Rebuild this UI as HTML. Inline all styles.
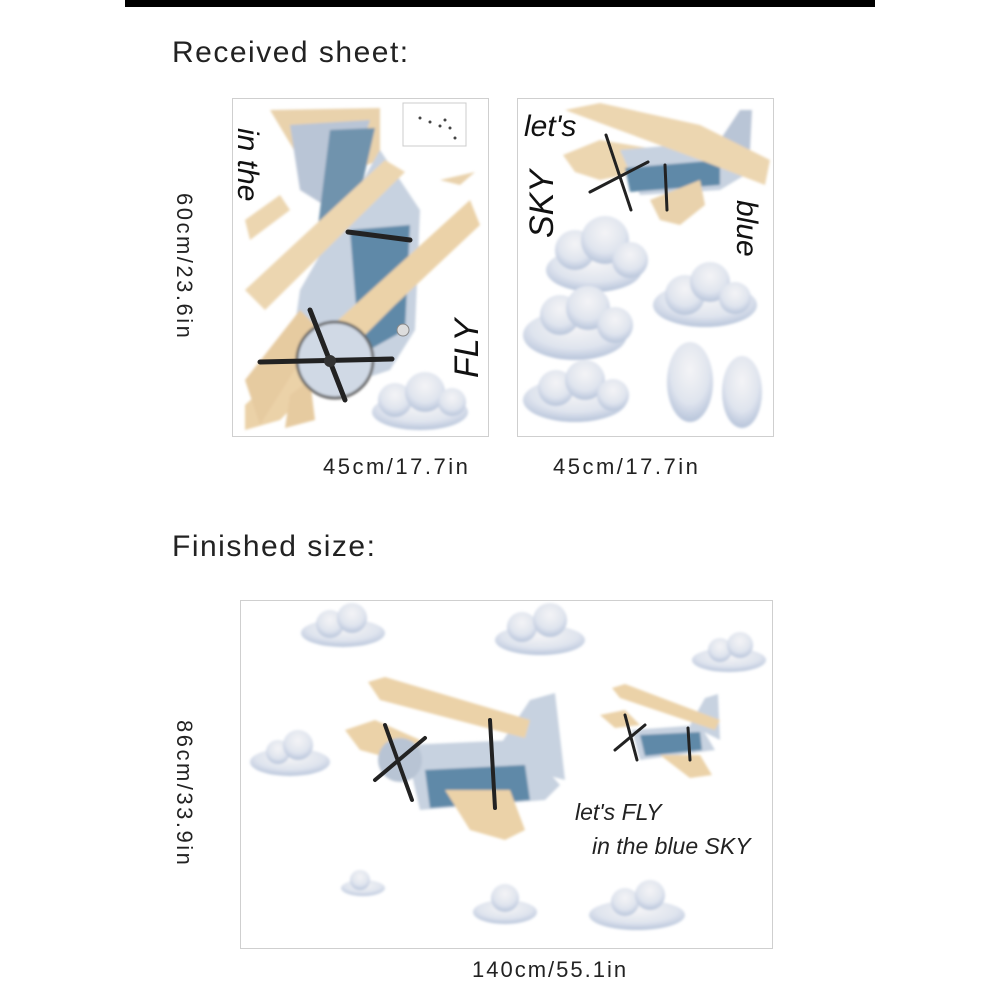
<!DOCTYPE html>
<html><head><meta charset="utf-8"><style>
html,body{margin:0;padding:0;background:#fff;}
body{width:1000px;height:1000px;position:relative;overflow:hidden;font-family:"Liberation Sans",sans-serif;}
.t{position:absolute;color:#222;white-space:nowrap;}
</style></head><body>
<svg width="1000" height="1000" style="position:absolute;left:0;top:0">
<defs>
<filter id="b" x="-20%" y="-20%" width="140%" height="140%"><feGaussianBlur stdDeviation="1.2"/></filter>
<radialGradient id="cg" cx="50%" cy="35%" r="70%"><stop offset="0" stop-color="#f4f4f6"/><stop offset="0.6" stop-color="#dfe4ee"/><stop offset="1" stop-color="#aebdd6"/></radialGradient>
</defs>
<rect x="125" y="0" width="750" height="7" fill="#000"/>
<rect x="232.5" y="98.5" width="256" height="338" fill="#fff" stroke="#cfcfcf"/>
<rect x="517.5" y="98.5" width="256" height="338" fill="#fff" stroke="#cfcfcf"/>
<rect x="240.5" y="600.5" width="532" height="348" fill="#fff" stroke="#cfcfcf"/>

<g filter="url(#b)">
<polygon points="270,110 380,108 380,160 315,185" fill="#e9d2ac"/>
<polygon points="290,125 370,120 340,215 300,190" fill="#b9c5d6"/>
<polygon points="330,130 375,128 345,260 315,250" fill="#6f93ad"/>
<polygon points="300,290 380,150 420,210 415,330 390,370 330,390 290,360" fill="#c7d2e0"/>
<polygon points="350,230 410,225 405,330 360,355" fill="#5f89a8"/>
<polygon points="245,290 385,160 405,172 265,310" fill="#ecd6b0"/>
<polygon points="245,405 470,200 480,225 395,305 280,420 245,430" fill="#ebd2a8"/>
<polygon points="245,380 300,310 320,330 260,425" fill="#e6cba0"/>
<polygon points="290,395 310,380 315,420 285,428" fill="#e6cba0"/>
<circle cx="335" cy="360" r="38" fill="#d0d9e5" stroke="#666" stroke-width="3"/>
<polygon points="440,180 475,172 460,185" fill="#e9d2ac"/>
<polygon points="245,220 280,195 290,210 250,240" fill="#ecd6b0"/>
</g>
<g stroke="#222" stroke-width="5" stroke-linecap="round">
<line x1="260" y1="362" x2="392" y2="359"/>
<line x1="310" y1="310" x2="345" y2="400"/>
<line x1="348" y1="232" x2="410" y2="240"/>
</g>
<circle cx="330" cy="361" r="6" fill="#333"/>
<circle cx="403" cy="330" r="6" fill="#ddd" stroke="#888"/>
<rect x="403" y="103" width="63" height="43" fill="#fff" stroke="#ccc"/>
<g fill="#444"><circle cx="420" cy="118" r="1.5"/><circle cx="430" cy="122" r="1.5"/><circle cx="440" cy="126" r="1.5"/><circle cx="450" cy="128" r="1.5"/><circle cx="445" cy="120" r="1.5"/><circle cx="455" cy="138" r="1.5"/></g>
<text x="0" y="0" transform="translate(238,128) rotate(90)" font-family="'Liberation Sans',sans-serif" font-style="italic" font-size="30" fill="#111">in the</text>
<text x="0" y="0" transform="translate(478,378) rotate(-90)" font-family="'Liberation Sans',sans-serif" font-style="italic" font-size="34" fill="#111">FLY</text>

<g filter="url(#b)">
<polygon points="563,155 600,140 660,150 650,170 600,180 575,172" fill="#ecd6b0"/>
<polygon points="720,140 740,110 752,110 750,150" fill="#b9c5d6"/>
<polygon points="620,150 730,140 745,175 720,190 640,195" fill="#c7d2e0"/>
<polygon points="625,168 720,160 720,185 630,192" fill="#5f89a8"/>
<polygon points="565,110 600,103 700,125 770,160 765,185 700,160" fill="#ecd6b0"/>
<polygon points="650,200 700,180 705,205 680,225 660,220" fill="#e9d2ac"/>
</g>
<g stroke="#222" stroke-width="3" stroke-linecap="round">
<line x1="590" y1="192" x2="648" y2="162"/><line x1="606" y1="135" x2="631" y2="210"/><line x1="665" y1="165" x2="667" y2="210"/>
</g>
<text x="0" y="0" transform="translate(524,136)" font-family="'Liberation Sans',sans-serif" font-style="italic" font-size="30" fill="#111">let's</text>
<text x="0" y="0" transform="translate(553,238) rotate(-90)" font-family="'Liberation Sans',sans-serif" font-style="italic" font-size="34" fill="#111">SKY</text>
<text x="0" y="0" transform="translate(737,200) rotate(90)" font-family="'Liberation Sans',sans-serif" font-style="italic" font-size="30" fill="#111">blue</text>

<g fill="url(#cg)" filter="url(#b)">
<g><ellipse cx="420" cy="412" rx="48" ry="18"/><circle cx="395" cy="400" r="17"/><circle cx="425" cy="392" r="20"/><circle cx="452" cy="402" r="14"/></g>
<g><ellipse cx="594" cy="270" rx="48" ry="22"/><circle cx="575" cy="250" r="20"/><circle cx="605" cy="240" r="24"/><circle cx="630" cy="260" r="18"/></g>
<g><ellipse cx="705" cy="305" rx="52" ry="22"/><circle cx="685" cy="295" r="20"/><circle cx="710" cy="282" r="20"/><circle cx="735" cy="298" r="16"/></g>
<g><ellipse cx="575" cy="335" rx="52" ry="25"/><circle cx="560" cy="315" r="20"/><circle cx="588" cy="308" r="22"/><circle cx="615" cy="325" r="18"/></g>
<g><ellipse cx="575" cy="400" rx="52" ry="22"/><circle cx="556" cy="388" r="18"/><circle cx="585" cy="380" r="20"/><circle cx="613" cy="395" r="16"/></g>
<g><ellipse cx="690" cy="382" rx="23" ry="40"/></g>
<g><ellipse cx="742" cy="392" rx="20" ry="36"/></g>
<g><ellipse cx="343" cy="633" rx="42" ry="14"/><circle cx="330" cy="624" r="14"/><circle cx="352" cy="618" r="15"/></g>
<g><ellipse cx="540" cy="640" rx="45" ry="15"/><circle cx="522" cy="627" r="15"/><circle cx="550" cy="620" r="17"/></g>
<g><ellipse cx="729" cy="660" rx="37" ry="12"/><circle cx="720" cy="650" r="12"/><circle cx="740" cy="645" r="13"/></g>
<g><ellipse cx="290" cy="762" rx="40" ry="14"/><circle cx="278" cy="752" r="12"/><circle cx="298" cy="745" r="15"/></g>
<g><ellipse cx="363" cy="888" rx="22" ry="8"/><circle cx="360" cy="880" r="10"/></g>
<g><ellipse cx="505" cy="912" rx="32" ry="12"/><circle cx="505" cy="898" r="14"/></g>
<g><ellipse cx="637" cy="915" rx="48" ry="15"/><circle cx="625" cy="902" r="14"/><circle cx="650" cy="895" r="15"/></g>
</g>

<g filter="url(#b)">
<polygon points="490,760 530,700 555,693 565,780" fill="#c7d2e0"/>
<polygon points="405,745 520,740 560,785 545,800 420,810" fill="#c7d2e0"/>
<polygon points="425,770 525,765 530,800 430,808" fill="#5f89a8"/>
<polygon points="368,682 385,677 530,720 525,738 380,700" fill="#ebd2a8"/>
<polygon points="345,730 375,720 420,740 415,765 360,750" fill="#ebd2a8"/>
<polygon points="445,790 510,790 525,830 505,840 470,830" fill="#ebd2a8"/>
<circle cx="400" cy="760" r="22" fill="#b8c4d4"/>
</g>
<g stroke="#222" stroke-width="4" stroke-linecap="round">
<line x1="375" y1="780" x2="425" y2="738"/><line x1="385" y1="725" x2="412" y2="800"/><line x1="490" y1="720" x2="495" y2="808"/>
</g>
<g filter="url(#b)">
<polygon points="690,725 705,698 718,694 720,740" fill="#c7d2e0"/>
<polygon points="632,730 700,725 715,750 640,760" fill="#c7d2e0"/>
<polygon points="640,735 700,732 702,750 645,756" fill="#5f89a8"/>
<polygon points="612,688 625,684 720,720 715,730 620,698" fill="#ebd2a8"/>
<polygon points="600,715 625,710 640,725 615,728" fill="#ebd2a8"/>
<polygon points="660,755 700,755 712,775 690,778" fill="#ebd2a8"/>
</g>
<g stroke="#222" stroke-width="3" stroke-linecap="round">
<line x1="615" y1="750" x2="645" y2="725"/><line x1="625" y1="715" x2="637" y2="760"/><line x1="688" y1="728" x2="690" y2="760"/>
</g>
<text x="575" y="820" font-family="'Liberation Sans',sans-serif" font-style="italic" font-size="23" fill="#222">let's FLY</text>
<text x="592" y="854" font-family="'Liberation Sans',sans-serif" font-style="italic" font-size="23" fill="#222">in the blue SKY</text>

<text transform="translate(177,193) rotate(90)" font-family="'Liberation Sans',sans-serif" font-size="22" letter-spacing="2.5" fill="#222">60cm/23.6in</text>
<text transform="translate(177,720) rotate(90)" font-family="'Liberation Sans',sans-serif" font-size="22" letter-spacing="2.5" fill="#222">86cm/33.9in</text>
</svg>
<div class="t" style="left:172px;top:36px;font-size:30px;letter-spacing:1.5px;">Received sheet:</div>
<div class="t" style="left:323px;top:454px;font-size:22px;letter-spacing:2.5px;">45cm/17.7in</div>
<div class="t" style="left:553px;top:454px;font-size:22px;letter-spacing:2.5px;">45cm/17.7in</div>
<div class="t" style="left:172px;top:530px;font-size:30px;letter-spacing:1.5px;">Finished size:</div>
<div class="t" style="left:472px;top:957px;font-size:22px;letter-spacing:2px;">140cm/55.1in</div>
</body></html>
